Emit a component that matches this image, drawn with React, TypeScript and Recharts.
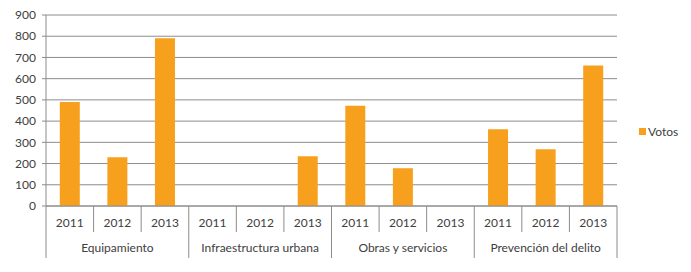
import { BarChart, Bar, XAxis, YAxis, CartesianGrid } from "recharts";

const groups = ["Equipamiento", "Infraestructura urbana", "Obras y servicios", "Prevención del delito"];
const years = ["2011", "2012", "2013"];
// votos por grupo, en orden 2011, 2012, 2013 (null = sin barra)
const equipamiento = [490, 230, 790];
const infraestructura = [null, null, 235];
const obras = [472, 178, null];
const prevencion = [362, 267, 662];
const yTicks = [0, 100, 200, 300, 400, 500, 600, 700, 800, 900];

const series = [equipamiento, infraestructura, obras, prevencion];

const data = groups.flatMap((g, gi) =>
  years.map((y, yi) => ({ group: g, year: y, votos: series[gi][yi] }))
);

const W = 691;
const H = 272;
const M = { top: 15, right: 74, bottom: 14, left: 0 };
const Y_W = 46;
const X_H = 52;
const GRID = "#8c8c8c";
const TEXT = "#404040";
const BAR = "#F7A01E";
const FONT = "Lato, 'Open Sans', sans-serif";

const step = (W - M.left - Y_W - M.right) / data.length;

function CatTick(props: any) {
  const { x, y, index, payload } = props;
  const d = data[index];
  const left = x - step / 2;
  const right = x + step / 2;
  const isFirst = index % 3 === 0;
  const isLast = index === data.length - 1;
  return (
    <g>
      <line x1={left} y1={y} x2={left} y2={y + (isFirst ? X_H : 26)} stroke={GRID} />
      {isLast && <line x1={right} y1={y} x2={right} y2={y + X_H} stroke={GRID} />}
      <text x={x} y={y + 21} textAnchor="middle" fontSize={12} fill={TEXT} fontFamily={FONT}>
        {payload.value}
      </text>
      {index % 3 === 1 && (
        <text x={x} y={y + 46} textAnchor="middle" fontSize={12} fill={TEXT} fontFamily={FONT}>
          {d.group}
        </text>
      )}
    </g>
  );
}

export default function App() {
  return (
    <div style={{ position: "absolute", left: 0, top: 0, width: W, height: H, background: "#fff" }}>
      <BarChart width={W} height={H} data={data} margin={M} barCategoryGap="29%">
        <CartesianGrid vertical={false} stroke={GRID} />
        <XAxis
          dataKey="year"
          interval={0}
          height={X_H}
          tickSize={0}
          tickMargin={0}
          tickLine={false}
          axisLine={{ stroke: GRID }}
          tick={<CatTick />}
        />
        <YAxis
          width={Y_W}
          domain={[0, 900]}
          ticks={yTicks}
          interval={0}
          tickSize={4}
          tickMargin={6}
          axisLine={{ stroke: GRID }}
          tickLine={{ stroke: GRID }}
          tick={{ fontSize: 12, fill: TEXT, fontFamily: FONT }}
        />
        <Bar dataKey="votos" name="Votos" fill={BAR} isAnimationActive={false} />
      </BarChart>
      {/* leyenda a la derecha, fuera del área del gráfico */}
      <div
        style={{
          position: "absolute",
          left: 639,
          top: 124,
          display: "flex",
          alignItems: "center",
          fontFamily: FONT,
          fontSize: 12,
          color: TEXT,
        }}
      >
        <span style={{ width: 7, height: 7, background: BAR, marginRight: 2, display: "inline-block" }} />
        Votos
      </div>
    </div>
  );
}
